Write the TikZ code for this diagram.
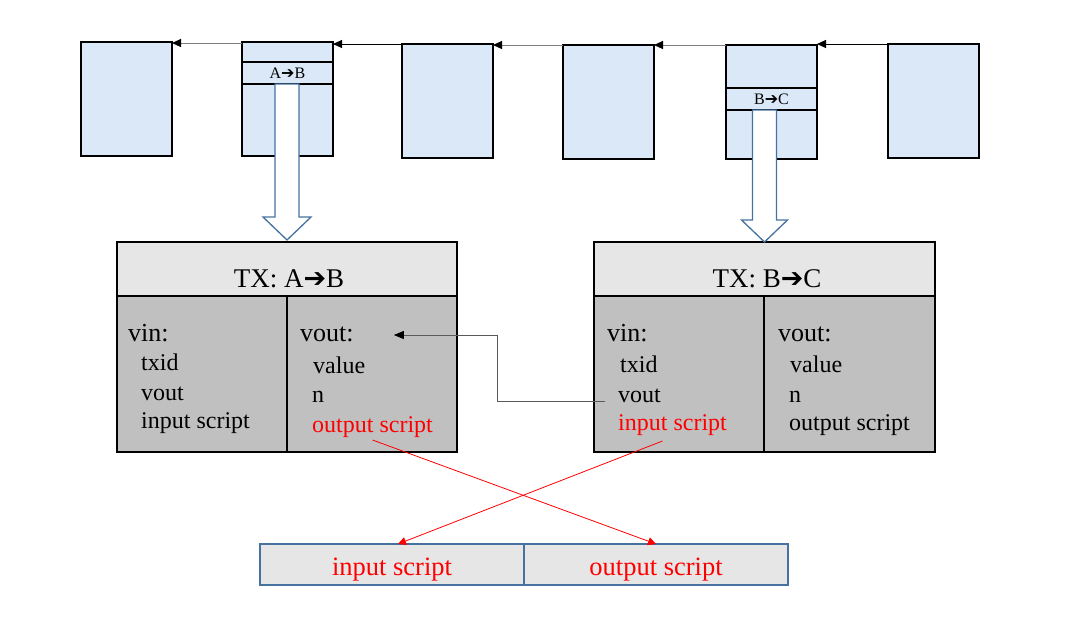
\documentclass[tikz,border=0pt]{standalone}
\usepackage{fontspec}
\setmainfont{Liberation Serif}
\newfontfamily\arrowfont{DejaVu Sans}
\usetikzlibrary{arrows.meta,calc}
\definecolor{blkfill}{RGB}{218,232,247}
\definecolor{hdrfill}{RGB}{231,230,230}
\definecolor{bodyfill}{RGB}{192,192,192}
\definecolor{steel}{RGB}{70,114,160}
\definecolor{chaingray}{RGB}{128,128,128}
\definecolor{conngray}{RGB}{90,90,90}
\newcommand{\arr}{{\arrowfont ➔}}
\begin{document}
\begin{tikzpicture}[x=1pt,y=-1pt,
  blk/.style={draw=black, line width=1.1pt, fill=blkfill, inner sep=0pt, outer sep=0pt, minimum width=91pt, minimum height=114pt},
  cell/.style={draw=black, line width=1.1pt, fill=blkfill, inner sep=0pt, outer sep=0pt, minimum width=91pt, minimum height=22pt, font=\fontsize{16}{18}\selectfont},
  hdr/.style={draw=black, line width=1.2pt, fill=hdrfill, inner sep=0pt, outer sep=0pt, minimum height=54pt},
  body/.style={draw=black, line width=1.2pt, fill=bodyfill, inner sep=0pt, outer sep=0pt, minimum height=156pt},
  sbox/.style={draw=steel, line width=1.1pt, fill=hdrfill, inner sep=0pt, outer sep=0pt, minimum width=264pt, minimum height=41pt},
  title/.style={anchor=base, inner sep=0pt, font=\fontsize{27}{30}\selectfont},
  head/.style={anchor=base west, inner sep=0pt, font=\fontsize{26}{30}\selectfont},
  item/.style={anchor=base west, inner sep=0pt, font=\fontsize{24}{28}\selectfont},
  btxt/.style={anchor=base, inner sep=0pt, text=red, font=\fontsize{26.5}{30}\selectfont},
  chainarr/.style={line width=1pt, -{Triangle[length=9pt,width=8pt,color=black]}},
  hollow/.style={draw=steel, line width=1.3pt, fill=white, line join=miter},
  connarr/.style={draw=conngray, line width=1pt, -{Triangle[length=10pt,width=8pt,color=black]}},
  redarr/.style={draw=red, line width=0.8pt, -{Triangle[length=8pt,width=8pt]}}
]
\useasboundingbox (0,0) rectangle (1076,627);

% chain of blocks
\node[blk] (b1) at (126.5,99) {};
\node[blk] (b2) at (287.5,99) {};
\node[cell] (ab) at (287.5,73) {A\arr B};
\node[blk] (b3) at (447.5,101) {};
\node[blk] (b4) at (608.5,102) {};
\node[blk] (b5) at (771.5,102) {};
\node[cell] (bc) at (771.5,99) {B\arr C};
\node[blk] (b6) at (933.5,101) {};

\draw[chainarr, draw=chaingray] ([yshift=-1pt]b2.north west) -- ([yshift=-1pt]b2.north west -| b1.east);
\draw[chainarr, draw=black] (b3.north west) -- (b3.north west -| b2.east);
\draw[chainarr, draw=chaingray] (b4.north west) -- (b4.north west -| b3.east);
\draw[chainarr, draw=chaingray] (b5.north west) -- (b5.north west -| b4.east);
\draw[chainarr, draw=black] (b6.north west) -- (b6.north west -| b5.east);

% TX boxes
\node[hdr, minimum width=340pt] (tx1) at (287,269) {};
\node[body, minimum width=170pt] (tx1in) at (202,374) {};
\node[body, minimum width=170pt] (tx1out) at (372,374) {};
\node[hdr, minimum width=341pt] (tx2) at (764.5,269) {};
\node[body, minimum width=170pt] (tx2in) at (679,374) {};
\node[body, minimum width=171pt] (tx2out) at (849.5,374) {};

\node[title] (t1) at (289,287) {TX: A\arr B};
\node[title] (t2) at (767,287) {TX: B\arr C};

% hollow arrows
\draw[hollow] ($(tx1.north |- ab.south)+(-12,0)$) -- ($(tx1.north)+(-12,-25)$) -- ($(tx1.north)+(-24,-25)$) -- ($(tx1.north)+(0,-2)$) -- ($(tx1.north)+(24,-25)$) -- ($(tx1.north)+(12,-25)$) -- ($(tx1.north |- ab.south)+(12,0)$) -- cycle;
\draw[hollow] ($(tx2.north |- bc.south)+(-12,0)$) -- ($(tx2.north)+(-12,-22)$) -- ($(tx2.north)+(-23,-22)$) -- ($(tx2.north)+(0,0)$) -- ($(tx2.north)+(23,-22)$) -- ($(tx2.north)+(12,-22)$) -- ($(tx2.north |- bc.south)+(12,0)$) -- cycle;

% TX 1 texts
\node[head] (vin1) at (128,341) {vin:};
\node[item] (txid1) at (141,370) {txid};
\node[item] (vouti1) at (141,400) {vout};
\node[item] (ins1) at (141,428) {input script};
\node[head] (vh1) at (300,341) {vout:};
\node[item] (val1) at (313,373) {value};
\node[item] (n1) at (312,402) {n};
\node[item, text=red] (out1) at (312,432) {output script};

% TX 2 texts
\node[head] (vin2) at (607,341) {vin:};
\node[item] (txid2) at (620,372) {txid};
\node[item] (vout2) at (618,402) {vout};
\node[item, text=red] (in2) at (618,430) {input script};
\node[head] (vh2) at (778,341) {vout:};
\node[item] (val2) at (790,372) {value};
\node[item] (n2) at (789,402) {n};
\node[item] (out2) at (789,430) {output script};

% gray connector
\draw[connarr] ($(vout2.base west)+(-13,-1)$) -- ++(-108,0) |- ($(vh1.base east)+(40,-6)$);

% bottom boxes
\node[sbox] (bi) at (392,564.5) {};
\node[sbox] (bo) at (656,564.5) {};
\node[btxt] (bit) at (392,575) {input script};
\node[btxt] (bot) at (656,575) {output script};

% red connectors
\draw[redarr] ($(out1.base)+(0,8)$) -- (bo.north);
\draw[redarr] ($(in2.base)+(-10,11)$) -- ($(bi.north)+(6,0)$);
\end{tikzpicture}
\end{document}
